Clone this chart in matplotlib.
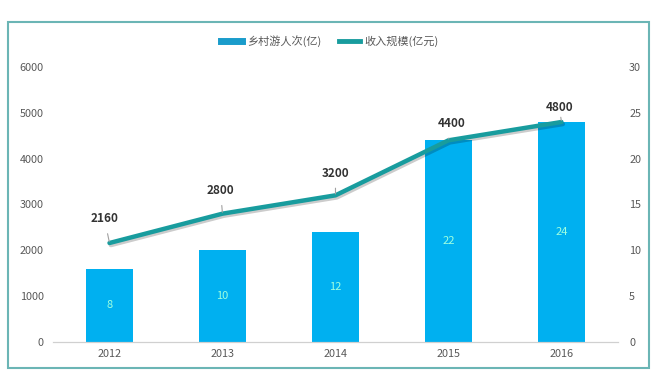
import matplotlib.pyplot as plt
import matplotlib.patheffects as pe
from matplotlib.lines import Line2D
from matplotlib.patches import Rectangle
import numpy as np

plt.rcParams['font.family'] = ['Noto Sans CJK SC', 'DejaVu Sans']

years = ["2012", "2013", "2014", "2015", "2016"]
visits = [8, 10, 12, 22, 24]            # 乡村游人次(亿), right axis
income = [2160, 2800, 3200, 4400, 4800]  # 收入规模(亿元), left axis
label_offsets = [(-5, 24), (-2, 23), (0, 22), (3, 17), (-2, 14)]  # pixels

bar_color = "#00B0F0"
line_color = "#189C9E"
tick_color = "#595959"

fig = plt.figure(figsize=(6.6, 3.8), dpi=100)
ax = fig.add_axes([0.0803, 0.1, 0.856, 0.7237])
ax2 = ax.twinx()

x = np.arange(len(years))

# bars on the right axis
ax2.bar(x, visits, width=0.41, color=bar_color, zorder=2)
for xi, v in zip(x, visits):
    ax2.text(xi, v / 2, str(v), ha='center', va='center', color="#9FFFE0", fontsize=8)

# line on the left axis (drawn above bars)
ax.set_zorder(ax2.get_zorder() + 1)
ax.patch.set_visible(False)
ax.plot(x, income, color=line_color, linewidth=3.2, solid_capstyle='round',
        path_effects=[pe.SimpleLineShadow(offset=(1, -1.5), alpha=0.2), pe.Normal()])
for xi, v, off in zip(x, income, label_offsets):
    ax.annotate(str(v), xy=(xi, v), xytext=off, textcoords='offset pixels',
                ha='center', va='center', fontsize=8.5, fontweight='bold', color="#333333",
                arrowprops=dict(arrowstyle='-', color="#A0A0A0", lw=0.8, shrinkA=4, shrinkB=1))

ax.set_xlim(-0.5, 4.5)
ax.set_ylim(0, 6000)
ax.set_yticks(range(0, 6001, 1000))
ax2.set_ylim(0, 30)
ax2.set_yticks(range(0, 31, 5))
ax.set_xticks(x)
ax.set_xticklabels(years)

for a in (ax, ax2):
    for s in ("top", "left", "right"):
        a.spines[s].set_visible(False)
    a.spines["bottom"].set_color("#D0D0D0")
    a.tick_params(length=0, colors=tick_color, labelsize=7.8)
ax.tick_params(axis='y', pad=6.5)
ax2.tick_params(axis='y', pad=8)
ax.tick_params(axis='x', pad=5)

handles = [Line2D([0], [0], color="#1A9CCB", lw=5),
           Line2D([0], [0], color=line_color, lw=3.5)]
fig.legend(handles, ["乡村游人次(亿)", "收入规模(亿元)"], loc='center', ncol=2,
           bbox_to_anchor=(0.5, 1 - 41 / 380), frameon=False, fontsize=8,
           handlelength=1.9, columnspacing=1.6, handletextpad=0.4, labelcolor=tick_color)

fig.patches.append(Rectangle((0.0121, 0.0316), 0.971, 0.9105, transform=fig.transFigure,
                             fill=False, edgecolor="#6BB5B5", lw=1.5))

fig.savefig("out.png", dpi=100)
